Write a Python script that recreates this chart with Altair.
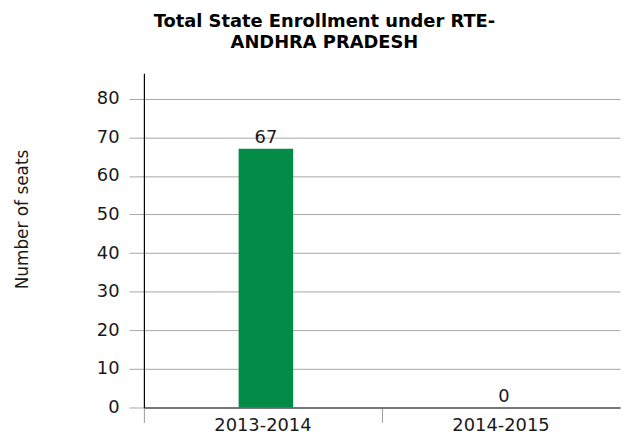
import altair as alt
import pandas as pd

years = ["2013-2014", "2014-2015"]
seats = [67, 0]
y_ticks = [0, 10, 20, 30, 40, 50, 60, 70, 80]

df = pd.DataFrame({"year": years, "seats": seats})

FONT = "DejaVu Sans"

base = alt.Chart(df).encode(
    x=alt.X(
        "year:N",
        sort=years,
        scale=alt.Scale(paddingInner=0, paddingOuter=0),
        axis=alt.Axis(
            title=None,
            labelAngle=0,
            labelFontSize=18,
            labelFont=FONT,
            labelColor="#1a1a1a",
            labelPadding=-6,
            bandPosition=0,
            ticks=True,
            tickSize=15,
            tickColor="#999999",
            domainColor="#595959",
            domainWidth=1.5,
            grid=False,
        ),
    ),
    y=alt.Y(
        "seats:Q",
        scale=alt.Scale(domain=[0, 86.6], nice=False),
        axis=alt.Axis(
            title="Number of seats",
            titleFont=FONT,
            titleFontSize=17,
            titleFontWeight="normal",
            titleColor="#1a1a1a",
            titleAngle=270,
            titleX=-122,
            titleY=147,
            titleAlign="center",
            titleBaseline="middle",
            values=y_ticks,
            labelFontSize=18,
            labelFont=FONT,
            labelColor="#1a1a1a",
            labelPadding=10,
            tickSize=15,
            tickColor="#a6a6a6",
            domainColor="#000000",
            domainWidth=1.2,
            gridColor="#a6a6a6",
            gridWidth=1,
        ),
    ),
)

bars = base.mark_bar(color="#038c47", width=55, xOffset=3)
labels = base.mark_text(
    dy=-6, dx=3, baseline="alphabetic", fontSize=18, font=FONT, color="#1a1a1a"
).encode(text="seats:Q")

chart = (
    (bars + labels)
    .properties(
        width=480,
        height=337,
        autosize=alt.AutoSizeParams(type="none"),
        padding={"left": 137, "top": 64, "right": 2, "bottom": 27},
        title=alt.TitleParams(
            text=["Total State Enrollment under RTE-", "ANDHRA PRADESH"],
            font=FONT,
            fontSize=18,
            fontWeight="bold",
            color="#000000",
            anchor="middle",
            frame="group",
            dx=-58,
            offset=21,
            lineHeight=22,
        ),
    )
    .configure_view(stroke=None)
)

chart.save("out.html", embed_options={"renderer": "svg", "actions": False})
